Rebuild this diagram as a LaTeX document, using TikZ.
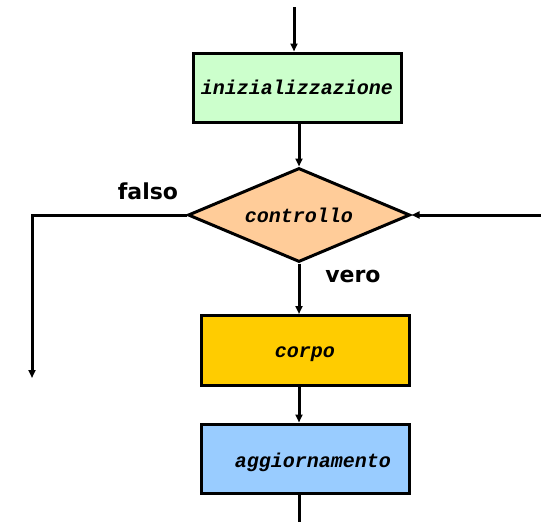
\documentclass[tikz,border=0pt]{standalone}
\usepackage{fontspec}
\setmainfont{DejaVu Sans}
\newfontfamily\codefont{Liberation Mono}
\usetikzlibrary{shapes.geometric,arrows.meta}
\definecolor{initgreen}{HTML}{CCFFCC}
\definecolor{ctrlorange}{HTML}{FFCC99}
\definecolor{bodyyellow}{HTML}{FFCC00}
\definecolor{updblue}{HTML}{99CCFF}
\tikzset{
  flow/.style={line width=3pt, -{Triangle[length=8pt,width=7pt]}},
  plain/.style={line width=3pt},
  procbox/.style={draw, line width=3pt, minimum width=208pt, minimum height=69pt, inner sep=0pt,
    font=\codefont\bfseries\itshape\fontsize{20}{22}\selectfont},
  decision/.style={draw, diamond, aspect=2.36, line width=3pt, minimum width=222pt, minimum height=94pt, inner sep=0pt,
    fill=ctrlorange, font=\codefont\bfseries\itshape\fontsize{20}{22}\selectfont},
  branchlabel/.style={font=\bfseries\fontsize{22}{24}\selectfont}
}
\begin{document}
\begin{tikzpicture}[x=1pt,y=-1pt]
\useasboundingbox (0,0) rectangle (541,522);
\node[procbox, fill=initgreen] (init) at (297,87.5) {inizializzazione};
\node[decision] (ctrl) at (299,215) {controllo};
\node[procbox, fill=bodyyellow, minimum height=70pt] (body) at (305,350.5) {};
\node[font=\codefont\bfseries\itshape\fontsize{20}{22}\selectfont] (bodytext) at (305,354) {corpo};
\node[procbox, fill=updblue] (upd) at (305,458.5) {};
\node[font=\codefont\bfseries\itshape\fontsize{20}{22}\selectfont] (updtext) at (313,462) {aggiornamento};
\coordinate (top) at (294,7);
\coordinate (bottom) at (300,522);
\coordinate (rightin) at (541,215);
\coordinate (leftcorner) at (32,215);
\coordinate (leftout) at (32,378);
\draw[flow] (top) -- (top |- init.north);
\draw[flow] (init.south -| ctrl.north) -- (ctrl.north);
\draw[flow] (ctrl.south) -- (ctrl.south |- body.north);
\draw[flow] (body.south -| ctrl.south) -- (upd.north -| ctrl.south);
\draw[plain] (upd.south -| ctrl.south) -- (bottom -| ctrl.south);
\draw[flow] (rightin) -- (ctrl.east);
\draw[flow] (ctrl.west) -- (leftcorner) -- (leftout);
\node[branchlabel] (falso) at (148,191) {falso};
\node[branchlabel] (vero) at (353,276) {vero};
\end{tikzpicture}
\end{document}
